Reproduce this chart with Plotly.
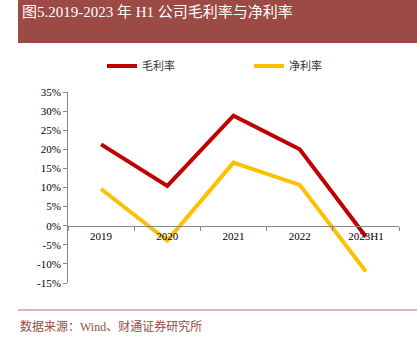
import plotly.graph_objects as go

categories = ["2019", "2020", "2021", "2022", "2023H1"]
gross_margin = [21.3, 10.4, 28.8, 20.0, -2.9]
net_margin = [9.6, -3.9, 16.5, 10.7, -12.0]
y_ticks = [35, 30, 25, 20, 15, 10, 5, 0, -5, -10, -15]
y_tick_labels = [f"{v}%" for v in y_ticks]

W, H = 417, 343
L, R, T, B = 68, 399, 92, 283

def px(x):
    return (x - L) / (R - L)

def py(y):
    return (B - y) / (B - T)

serif = "Liberation Serif, Noto Sans CJK SC, serif"

fig = go.Figure()
fig.add_trace(go.Scatter(x=categories, y=gross_margin, mode="lines", name="毛利率",
                         line=dict(color="#C00000", width=4)))
fig.add_trace(go.Scatter(x=categories, y=net_margin, mode="lines", name="净利率",
                         line=dict(color="#FFC000", width=4)))

fig.update_layout(
    width=W, height=H,
    margin=dict(l=L, r=W - R, t=T, b=H - B, pad=0),
    paper_bgcolor="white", plot_bgcolor="white",
    font=dict(family=serif, size=11, color="#000000"),
    showlegend=True,
    legend=dict(orientation="h", x=px(102), y=py(66), xanchor="left", yanchor="middle",
                entrywidth=102, entrywidthmode="pixels",
                font=dict(family="Noto Sans CJK SC", size=11, color="#333333"),
                bgcolor="rgba(0,0,0,0)", itemwidth=30),
    xaxis=dict(type="category", range=[-0.5, 4.5], showgrid=False,
               showline=True, linecolor="#888888", linewidth=1,
               ticks="outside", ticklen=4, tickcolor="#888888", tickson="boundaries",
               anchor="free", position=(0 - (-15)) / 50,
               tickfont=dict(family=serif, size=11, color="#000000")),
    yaxis=dict(range=[-15, 35], tickvals=y_ticks, ticktext=y_tick_labels,
               showgrid=False, zeroline=False, showline=True, linecolor="#888888",
               linewidth=1, ticks="outside", ticklen=4, tickcolor="#888888",
               tickfont=dict(family=serif, size=11, color="#000000")),
)

fig.add_shape(type="rect", xref="paper", yref="paper",
              x0=px(18), x1=px(417), y0=py(43), y1=py(0),
              fillcolor="#9B4A45", line=dict(width=0), layer="below")
fig.add_shape(type="line", xref="paper", yref="paper",
              x0=px(18), x1=px(417), y0=py(310), y1=py(310),
              line=dict(color="#DDB6B4", width=2))

fig.add_annotation(text="图5.2019-2023 年 H1 公司毛利率与净利率", xref="paper", yref="paper",
                   x=px(20), y=py(12), xanchor="left", yanchor="middle", showarrow=False,
                   font=dict(family=serif, size=15, color="white"))
fig.add_annotation(text="数据来源：Wind、财通证券研究所", xref="paper", yref="paper",
                   x=px(18), y=py(326), xanchor="left", yanchor="middle", showarrow=False,
                   font=dict(family=serif, size=12, color="#9B4A45"))

fig.write_html("out.html")
